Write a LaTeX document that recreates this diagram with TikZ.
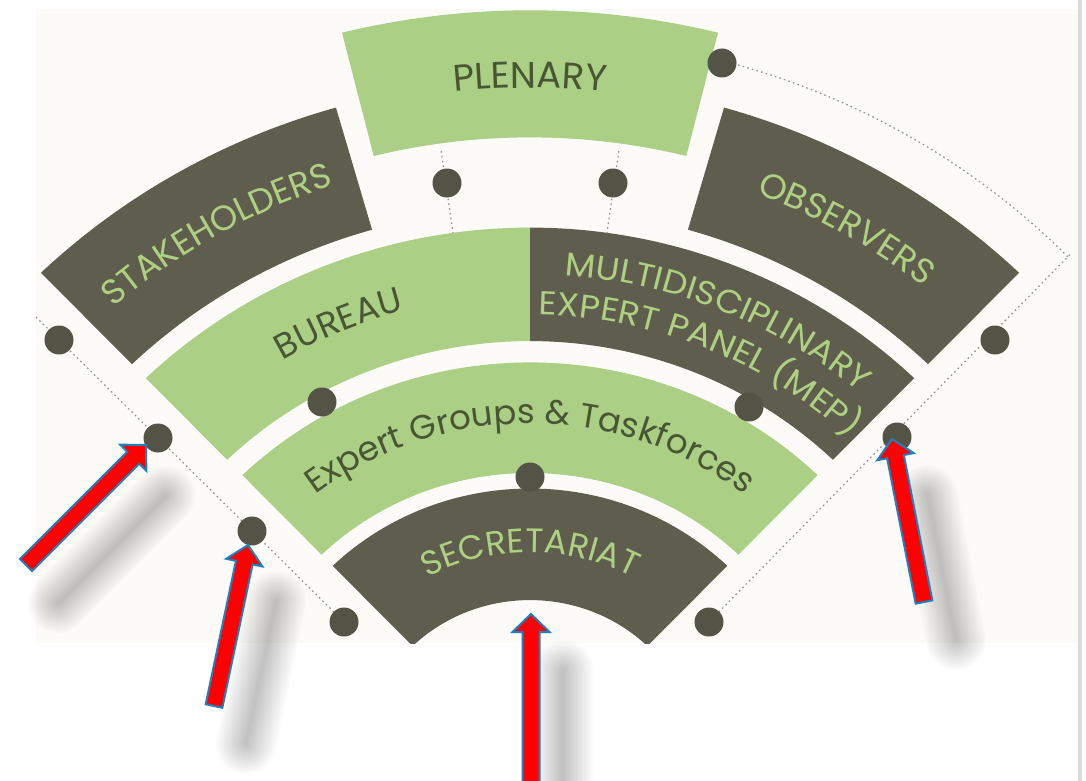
\documentclass[tikz,border=0pt]{standalone}
\usepackage{fontspec}
\setmainfont{Poppins}
\newfontfamily\widefont[FakeStretch=1.07]{Poppins}
\usetikzlibrary{calc,decorations.text}
\definecolor{darkcol}{RGB}{94,93,78}
\definecolor{greencol}{RGB}{170,207,133}
\definecolor{lighttext}{RGB}{174,208,128}
\definecolor{darktext}{RGB}{72,86,52}
\definecolor{dotcol}{RGB}{84,84,70}
\definecolor{bgoff}{RGB}{252,251,248}
\definecolor{arrowblue}{RGB}{30,128,190}
\definecolor{borderline}{RGB}{218,218,218}
\newcommand\bandfont[1]{\fontsize{#1}{#1}\selectfont}
% band: style, start angle, end angle, inner r, outer r, name
\newcommand\fanband[6]{%
  \path[#1] ({#2}:#4) arc[start angle={#2}, end angle={#3}, radius=#4]
     -- ({#3}:#5) arc[start angle={#3}, end angle={#2}, radius=#5] -- cycle;
  \coordinate (#6) at ({(#2+#3)/2}:{(#4+#5)/2});}
% text on arc: radius, centre angle, half span, format, text
\newcommand\arctext[5]{%
  \path[decorate, decoration={text along path, text align=center, text={|#4|#5}}]
     ({#2-#3}:#1) arc[start angle={#2-#3}, end angle={#2+#3}, radius=#1];}
\newcommand\redarrow[2]{%
  \coordinate (#1h) at ($(#2)!9pt!(#1)$);
  \foreach \w in {4,8,...,60}{
    \draw[line width=\w*0.5pt, black, opacity=0.015, line cap=round]
      ($(#1)+(32,38)$) -- ($(#1h)+(32,38)$);}
  \draw[arrowbody] ($(#1)!4.25pt!90:(#2)$) -- ($(#1h)!4.25pt!90:(#2)$)
     -- ($(#1h)!9.25pt!90:(#2)$) -- (#2) -- ($(#1h)!9.25pt!-90:(#2)$)
     -- ($(#1h)!4.25pt!-90:(#2)$) -- ($(#1)!4.25pt!-90:(#2)$) -- cycle;}
\begin{document}
\begin{tikzpicture}[x=0.5pt,y=-0.5pt,
  handledot/.style={circle, fill=dotcol, inner sep=0pt, minimum size=14.5pt},
  handleline/.style={draw=gray!85, line width=0.6pt, dash pattern=on 0.8pt off 1.6pt},
  darkband/.style={fill=darkcol},
  greenband/.style={fill=greencol},
  arrowbody/.style={fill=red, draw=arrowblue, line width=1pt, line join=miter}]
\useasboundingbox (0,0) rectangle (1086,781);
\fill[white] (0,0) rectangle (1086,781);
\fill[bgoff] (36,9) rectangle (1078,643);
\draw[borderline, line width=2pt] (1080,0) -- (1080,781);

% ---------------- fan ----------------
\begin{scope}
\clip (0,0) rectangle (1086,643);
\begin{scope}[shift={(530,764)}, y=-0.485pt]
  \fanband{darkband}{-134}{-46}{169}{284}{secretariat}
  \fanband{greenband}{-134}{-46}{300}{414}{expert}
  \fanband{greenband}{-134}{-90}{436}{553}{bureau}
  \fanband{darkband}{-90}{-46}{436}{553}{mep}
  \fanband{darkband}{-134}{-106}{573}{704}{stakeholders}
  \fanband{darkband}{-74}{-46}{573}{704}{observers}
  \fanband{greenband}{-104}{-76}{646}{777}{plenary}
  % texts
  \arctext{697}{-90}{30}{\bandfont{18.5}\color{darktext}}{PLENARY}
  \arctext{628}{-120}{30}{\bandfont{17.5}\color{lighttext}}{STAKEHOLDERS}
  \arctext{630}{-60}{30}{\bandfont{17.5}\color{lighttext}}{OBSERVERS}
  \arctext{484}{-113}{30}{\bandfont{17.5}\color{darktext}}{BUREAU}
  \arctext{505}{-67.5}{40}{\widefont\bandfont{16.5}\color{lighttext}}{MULTIDISCIPLINARY}
  \arctext{463}{-67.5}{40}{\widefont\bandfont{16.5}\color{lighttext}}{EXPERT PANEL (MEP)}
  \arctext{351}{-90}{55}{\bandfont{17}\color{darktext}}{Expert Groups {\&} Taskforces}
  \arctext{218}{-90}{60}{\bandfont{17}\color{lighttext}}{SECRETARIAT}
  % handle guide coordinates
  \coordinate (arcA) at (-75:750);
  \coordinate (arcB) at (-44.2:753);
  \coordinate (radL1) at (-98:638);
  \coordinate (radL2) at (-98:550);
  \coordinate (radR1) at (-82:638);
  \coordinate (radR2) at (-82:550);
  \draw[handleline] (arcA) arc[start angle=-75, end angle=-44.2, radius=751];
  \draw[handleline] (radL1) -- (radL2);
  \draw[handleline] (radR1) -- (radR2);
\end{scope}
\end{scope}

% ---------------- handles ----------------
\coordinate (leftend) at (36,317);
\draw[handleline] (leftend) -- (344,622);
\draw[handleline] (arcB) -- (709,622);

\node[handledot] (h1) at (59,340) {};
\node[handledot] (h2) at (158,438) {};
\node[handledot] (h3) at (252,531) {};
\node[handledot] (h4) at (344,622) {};
\node[handledot] (h5) at (709,622) {};
\node[handledot] (h6) at (897,437) {};
\node[handledot] (h7) at (995,340) {};
\node[handledot] (h8) at (722,63) {};
\node[handledot] (h9) at (447,183) {};
\node[handledot] (h10) at (613,183) {};
\node[handledot] (h11) at (322,402) {};
\node[handledot] (h12) at (749,407) {};
\node[handledot] (h13) at (530,477) {};

% ---------------- red arrows ----------------
\coordinate (aT) at (26,565);  \coordinate (aP) at (146,445);
\coordinate (bT) at (214,706); \coordinate (bP) at (248,545);
\coordinate (cT) at (531,800); \coordinate (cP) at (531,614);
\coordinate (dT) at (924,602); \coordinate (dP) at (892,439);
\redarrow{aT}{aP}
\redarrow{bT}{bP}
\redarrow{cT}{cP}
\redarrow{dT}{dP}
\end{tikzpicture}
\end{document}
